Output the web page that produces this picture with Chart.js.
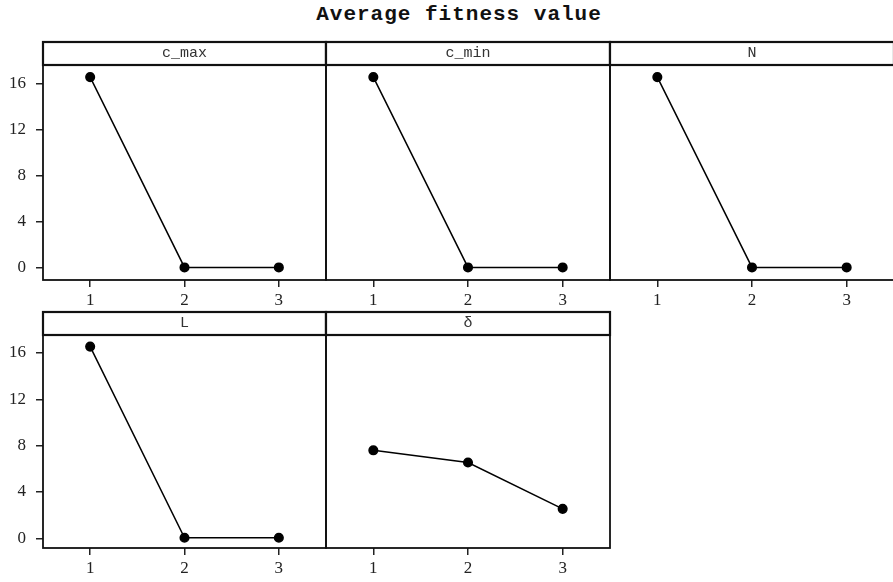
<!DOCTYPE html>
<html>
<head>
<meta charset="utf-8">
<script src="https://cdn.jsdelivr.net/npm/chart.js@4.4.0/dist/chart.umd.min.js"></script>
<style>
  html, body { margin: 0; padding: 0; background: #fff; }
  #wrap { position: relative; width: 893px; height: 582px; overflow: hidden; }
  #wrap canvas { position: absolute; left: 0; top: 0; }
  #title {
    position: absolute; left: 0; top: 3px; width: 918px; text-align: center;
    font: bold 21px "Liberation Mono", monospace; letter-spacing: 1px; color: #111;
  }
</style>
</head>
<body>
<div id="wrap">
  <div id="title">Average fitness value</div>
</div>
<script>
// values
const categories = [1, 2, 3];
const xTicks = [1, 2, 3];
const yTicks = [0, 4, 8, 12, 16];
const panelNames = ['c_max', 'c_min', 'N', 'L', 'δ'];
const cMaxValues = [16.55, 0.05, 0.05];
const cMinValues = [16.55, 0.05, 0.05];
const nValues = [16.55, 0.05, 0.05];
const lValues = [16.55, 0.05, 0.05];
const deltaValues = [7.6, 6.55, 2.55];
const panelValues = [cMaxValues, cMinValues, nValues, lValues, deltaValues];

// panel geometry
const CW = 900, CH = 582;
const colEdges = [[43, 326], [326, 610], [610, 894]];
const rows = [
  { top: 65, bottom: 280, yMin: -1.04, yMax: 17.6 },
  { top: 335, bottom: 548, yMin: -0.83, yMax: 17.55 }
];
const STRIP = 23, YW = 43, XH = 32;

const stripPlugin = {
  id: 'strip',
  afterDraw(chart, args, opts) {
    const { ctx, chartArea: a } = chart;
    ctx.save();
    ctx.strokeStyle = '#111';
    ctx.lineWidth = 1.8;
    ctx.strokeRect(a.left, a.top, a.right - a.left, a.bottom - a.top);
    ctx.fillStyle = '#fff';
    ctx.fillRect(a.left, a.top - STRIP, a.right - a.left, STRIP);
    ctx.lineWidth = 2.2;
    ctx.strokeRect(a.left, a.top - STRIP, a.right - a.left, STRIP);
    ctx.fillStyle = '#333';
    ctx.font = '15px "Liberation Mono", monospace';
    ctx.textAlign = 'center';
    ctx.textBaseline = 'middle';
    ctx.fillText(opts.label, (a.left + a.right) / 2, a.top - STRIP / 2);
    ctx.restore();
  }
};

const wrap = document.getElementById('wrap');

panelNames.forEach((name, i) => {
  const col = i % 3, row = rows[Math.floor(i / 3)];
  const [L, R] = colEdges[col];
  const showY = col === 0;
  const canvas = document.createElement('canvas');
  canvas.width = CW; canvas.height = CH;
  wrap.appendChild(canvas);

  new Chart(canvas.getContext('2d'), {
    type: 'line',
    data: {
      datasets: [{
        data: categories.map((c, k) => ({ x: c, y: panelValues[i][k] })),
        borderColor: '#000',
        borderWidth: 1.5,
        pointRadius: 4.3,
        pointBackgroundColor: '#000',
        pointBorderColor: '#000',
        tension: 0
      }]
    },
    options: {
      responsive: false,
      animation: false,
      devicePixelRatio: 1,
      layout: {
        padding: {
          left: L - (showY ? YW : 0),
          top: row.top,
          right: CW - R,
          bottom: CH - row.bottom - XH
        }
      },
      plugins: {
        legend: { display: false },
        tooltip: { enabled: false },
        strip: { label: name }
      },
      scales: {
        x: {
          type: 'linear',
          min: 0.5,
          max: 3.5,
          afterBuildTicks: s => { s.ticks = xTicks.map(v => ({ value: v })); },
          afterFit: s => { s.height = XH; },
          grid: { drawOnChartArea: false, tickLength: 7, color: '#222', lineWidth: 1.5 },
          border: { display: false },
          ticks: { padding: 3, color: '#222', font: { family: '"Liberation Serif", serif', size: 17 } }
        },
        y: {
          display: showY,
          min: row.yMin,
          max: row.yMax,
          afterBuildTicks: s => { s.ticks = yTicks.map(v => ({ value: v })); },
          afterFit: s => { s.width = showY ? YW : 0; },
          grid: { drawOnChartArea: false, tickLength: 7, color: '#222', lineWidth: 1.5 },
          border: { display: false },
          ticks: { padding: 10, color: '#222', font: { family: '"Liberation Serif", serif', size: 17 } }
        }
      }
    },
    plugins: [stripPlugin]
  });
});
</script>
</body>
</html>
